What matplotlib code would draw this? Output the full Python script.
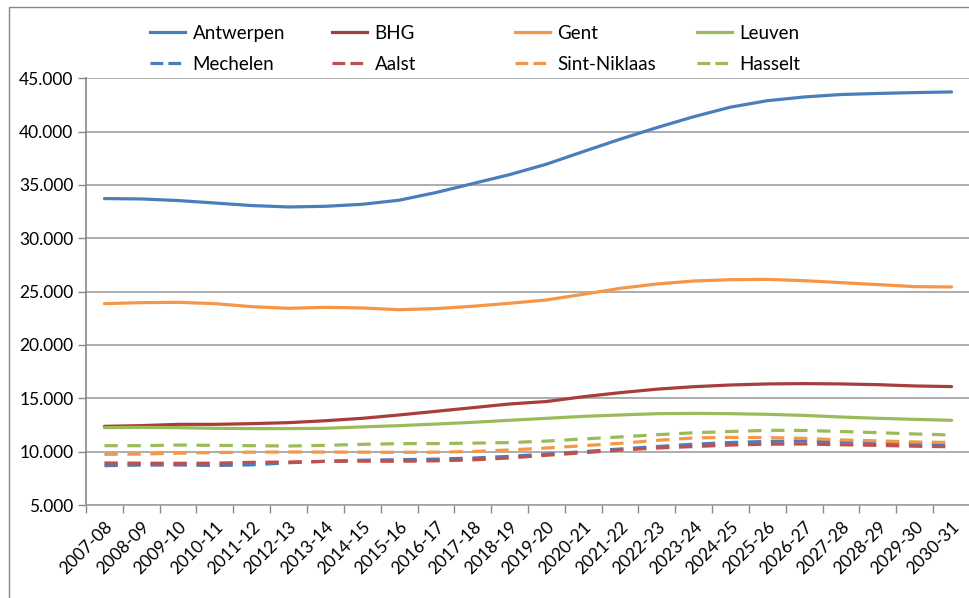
import matplotlib
matplotlib.use("Agg")
import matplotlib.pyplot as plt
from matplotlib.lines import Line2D
from matplotlib.patches import Rectangle
import numpy as np

years = ["2007-08", "2008-09", "2009-10", "2010-11", "2011-12", "2012-13", "2013-14",
         "2014-15", "2015-16", "2016-17", "2017-18", "2018-19", "2019-20", "2020-21",
         "2021-22", "2022-23", "2023-24", "2024-25", "2025-26", "2026-27", "2027-28",
         "2028-29", "2029-30", "2030-31"]

antwerpen = [33725, 33690, 33540, 33310, 33070, 32940, 33000, 33190, 33570, 34290, 35130, 35970,
             36950, 38130, 39290, 40380, 41400, 42300, 42900, 43250, 43480, 43580, 43660, 43720]
bhg = [12375, 12440, 12560, 12560, 12625, 12720, 12900, 13125, 13440, 13780, 14125, 14470,
       14700, 15150, 15530, 15860, 16090, 16250, 16350, 16380, 16350, 16280, 16160, 16100]
gent = [23875, 23970, 24000, 23875, 23590, 23440, 23530, 23470, 23310, 23410, 23630, 23910,
        24220, 24750, 25310, 25720, 26000, 26120, 26150, 26030, 25840, 25660, 25470, 25440]
leuven = [12250, 12280, 12250, 12190, 12160, 12160, 12190, 12320, 12440, 12590, 12750, 12940,
          13125, 13310, 13440, 13560, 13590, 13560, 13500, 13400, 13250, 13125, 13030, 12940]
mechelen = [8690, 8740, 8750, 8700, 8760, 8960, 9100, 9200, 9250, 9300, 9400, 9560,
            9780, 10000, 10250, 10480, 10700, 10860, 10960, 11000, 10930, 10840, 10770, 10720]
aalst = [8940, 8920, 8910, 8920, 9000, 9030, 9090, 9110, 9100, 9140, 9230, 9410,
         9660, 9900, 10150, 10340, 10480, 10620, 10700, 10720, 10650, 10590, 10510, 10460]
sint_niklaas = [9750, 9770, 9860, 9920, 9950, 9970, 9960, 9950, 9940, 9950, 10020, 10160,
                10340, 10560, 10780, 11060, 11290, 11340, 11320, 11250, 11100, 11010, 10910, 10860]
hasselt = [10560, 10560, 10620, 10590, 10560, 10530, 10590, 10690, 10750, 10760, 10800, 10850,
           10990, 11190, 11380, 11590, 11770, 11890, 12000, 11990, 11890, 11780, 11660, 11560]

series_names = ["Antwerpen", "BHG", "Gent", "Leuven", "Mechelen", "Aalst", "Sint-Niklaas", "Hasselt"]
series_data = [antwerpen, bhg, gent, leuven, mechelen, aalst, sint_niklaas, hasselt]
colors = ["#4A7EBB", "#A83E3B", "#F79646", "#9BBB59", "#4A7EBB", "#C0504D", "#F79646", "#9BBB59"]
styles = ["solid"] * 4 + ["dashed"] * 4

yticks = [5000, 10000, 15000, 20000, 25000, 30000, 35000, 40000, 45000]
ytick_labels = ["5.000", "10.000", "15.000", "20.000", "25.000", "30.000", "35.000", "40.000", "45.000"]

plt.rcParams['font.family'] = ['Lato', 'DejaVu Sans']

W, H = 970, 598
fig = plt.figure(figsize=(W / 100, H / 100), dpi=100)

# outer chart border
fig.patches.append(Rectangle((9 / W, -0.02), 1.05, 1 - 7 / H + 0.02, transform=fig.transFigure,
                             fill=False, edgecolor="#878787", linewidth=1.0))

ax = fig.add_axes([86 / W, (H - 505) / H, (970 - 86) / W, (505 - 78.3) / H])
x = np.arange(len(years))
lw = 2.3
handles = []
for name, data, c, st in zip(series_names, series_data, colors, styles):
    ln, = ax.plot(x, data, color=c, lw=lw, label=name, solid_capstyle="round")
    if st == "dashed":
        ln.set_dashes((4.2, 3.0))
        ln.set_dash_capstyle("butt")
    handles.append(ln)

ax.set_xlim(-0.5, len(years) - 0.5)
ax.set_ylim(5000, 45000)
ax.set_yticks(yticks)
ax.set_yticklabels(ytick_labels)
ax.set_xticks(x)
ax.set_xticklabels(years, rotation=45, ha="right", rotation_mode="anchor")
ax.set_xticks(np.arange(len(years) + 1) - 0.5, minor=True)
ax.tick_params(axis="x", which="major", length=0, pad=10, labelsize=12.5)
ax.tick_params(axis="x", which="minor", length=6, color="#878787", width=1)
ax.tick_params(axis="y", length=6, color="#878787", width=1, labelsize=12.5, pad=3)
ax.grid(axis="y", color="#A0A0A0", lw=1.2)
ax.set_axisbelow(True)
for s in ["top", "right"]:
    ax.spines[s].set_visible(False)
ax.spines["left"].set_color("#878787")
ax.spines["bottom"].set_color("#A0A0A0")
ax.spines["left"].set_linewidth(1.2)
ax.spines["bottom"].set_linewidth(1.2)

# legend: 4 columns, 2 rows
col_x = [150, 332, 515, 697]
for k in range(4):
    hs = [handles[k], handles[k + 4]]
    hl = [Line2D([0], [0], color=h.get_color(), lw=lw) for h in hs]
    hl[1].set_dashes((4.0, 1.6))
    hl[1].set_dash_capstyle("butt")
    fig.legend(hl, [h.get_label() for h in hs], loc="upper left",
               bbox_to_anchor=(col_x[k] / W, 1 - 25 / H), frameon=False,
               fontsize=13.5, handlelength=1.85, handletextpad=0.42, labelspacing=0.72,
               borderpad=0, borderaxespad=0)

fig.savefig("out.png", dpi=100)
